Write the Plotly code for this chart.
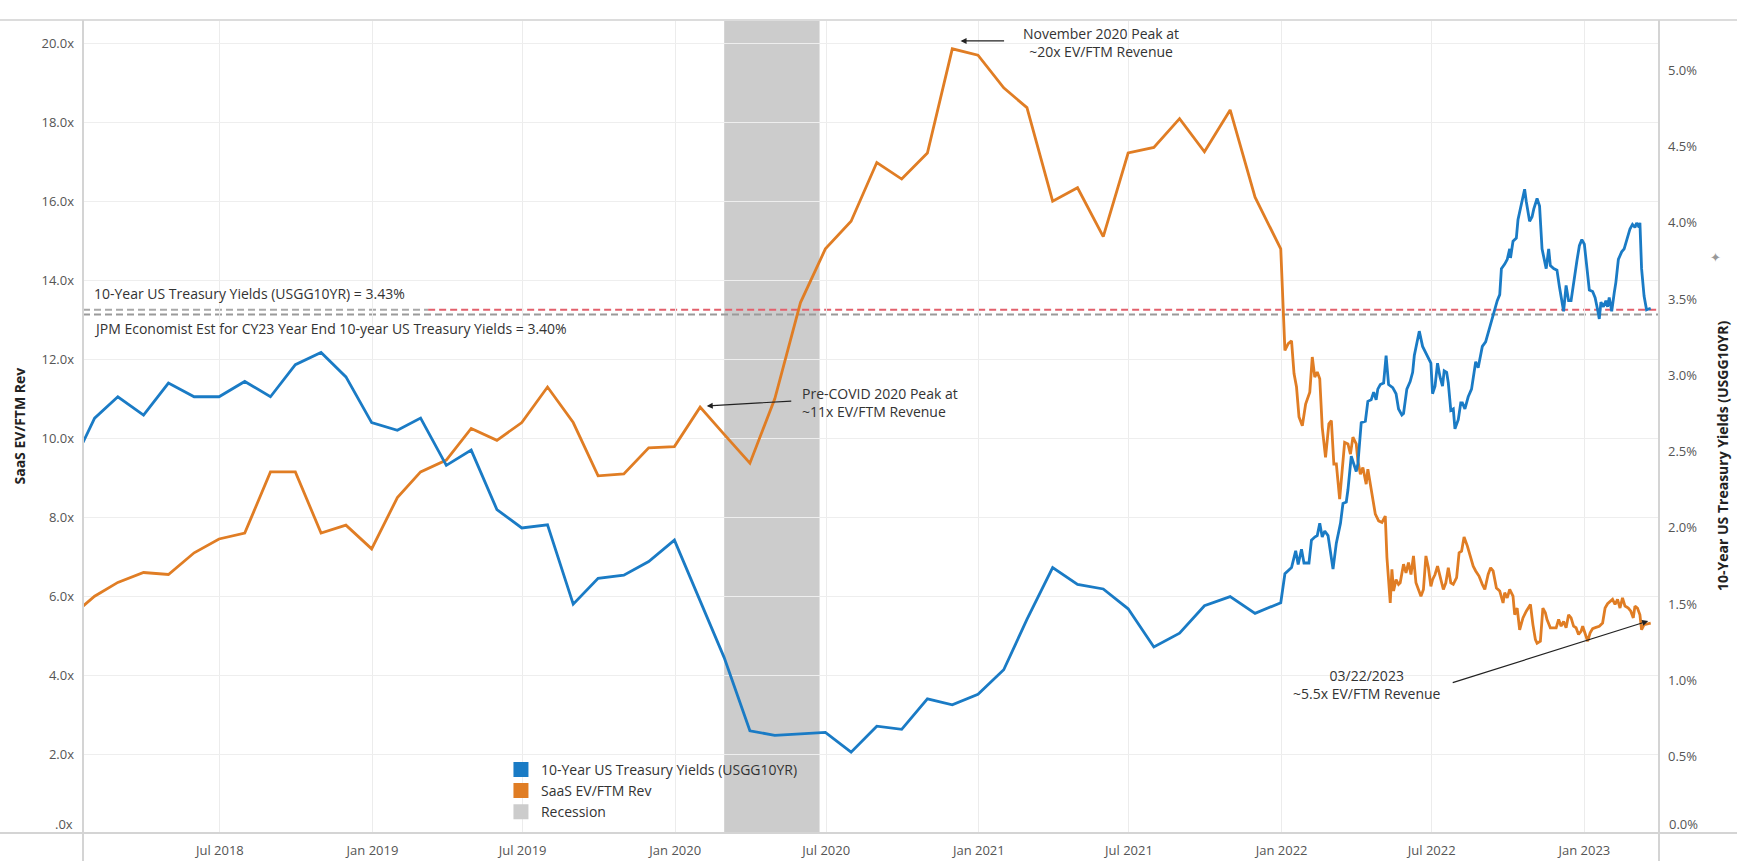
import plotly.graph_objects as go
import pandas as pd

# ---------------- data ----------------
start_date = "2018-01-17"
monthly_dates = [d.strftime("%Y-%m-%d") for d in
                 pd.date_range("2018-01-31", periods=48, freq=pd.offsets.MonthEnd())]

yield_start = 2.56
saas_start = 5.75

# 10-Year US Treasury Yields (%), month-end Jan 2018 .. Dec 2021
yield_monthly = [2.72, 2.86, 2.74, 2.95, 2.86, 2.86, 2.96, 2.86, 3.07, 3.15, 2.99, 2.69,
                 2.64, 2.72, 2.41, 2.51, 2.12, 2.00, 2.02, 1.50, 1.67, 1.69, 1.78, 1.92,
                 1.52, 1.15, 0.67, 0.64, 0.65, 0.66, 0.53, 0.70, 0.68, 0.88, 0.84, 0.91,
                 1.07, 1.40, 1.74, 1.63, 1.60, 1.47, 1.22, 1.31, 1.49, 1.55, 1.44, 1.51]

# SaaS EV/FTM Rev (x), month-end Jan 2018 .. Dec 2021
saas_monthly = [6.00, 6.35, 6.60, 6.55, 7.10, 7.45, 7.60, 9.15, 9.15, 7.60, 7.80, 7.20,
                8.50, 9.15, 9.45, 10.25, 9.95, 10.40, 11.30, 10.40, 9.05, 9.10, 9.76, 9.79,
                10.79, 10.10, 9.37, 11.00, 13.44, 14.80, 15.50, 16.99, 16.57, 17.23, 19.87, 19.71,
                18.88, 18.38, 16.01, 16.35, 15.11, 17.23, 17.37, 18.10, 17.26, 18.32, 16.11, 14.80]

yield_dense_dates = [
    "2022-01-05", "2022-01-09", "2022-01-13", "2022-01-18", "2022-01-21", "2022-01-25", "2022-01-28",
    "2022-02-03", "2022-02-06", "2022-02-10", "2022-02-13", "2022-02-16", "2022-02-19", "2022-02-22",
    "2022-02-26", "2022-03-04", "2022-03-08", "2022-03-13", "2022-03-16", "2022-03-20", "2022-03-22",
    "2022-03-26", "2022-04-01", "2022-04-03", "2022-04-07", "2022-04-12", "2022-04-15", "2022-04-19",
    "2022-04-22", "2022-04-25", "2022-04-27", "2022-04-30", "2022-05-04", "2022-05-07", "2022-05-10",
    "2022-05-15", "2022-05-19", "2022-05-22", "2022-05-26", "2022-05-28", "2022-06-01", "2022-06-05",
    "2022-06-08", "2022-06-10", "2022-06-13", "2022-06-16", "2022-06-20", "2022-06-25", "2022-06-30",
    "2022-07-02", "2022-07-05", "2022-07-08", "2022-07-11", "2022-07-14", "2022-07-16", "2022-07-19",
    "2022-07-21", "2022-07-24", "2022-07-27", "2022-07-29", "2022-08-02", "2022-08-05", "2022-08-07",
    "2022-08-10", "2022-08-14", "2022-08-18", "2022-08-20", "2022-08-23", "2022-08-26", "2022-08-28",
    "2022-08-31", "2022-09-04", "2022-09-07", "2022-09-11", "2022-09-15", "2022-09-18", "2022-09-21",
    "2022-09-23", "2022-09-27", "2022-09-30", "2022-10-03", "2022-10-04", "2022-10-07", "2022-10-11",
    "2022-10-13", "2022-10-16", "2022-10-19", "2022-10-21", "2022-10-23", "2022-10-27", "2022-10-30",
    "2022-11-01", "2022-11-05", "2022-11-08", "2022-11-11", "2022-11-13", "2022-11-16", "2022-11-19",
    "2022-11-21", "2022-11-25", "2022-11-29", "2022-12-02", "2022-12-05", "2022-12-07", "2022-12-10",
    "2022-12-13", "2022-12-16", "2022-12-19", "2022-12-23", "2022-12-26", "2022-12-29", "2023-01-01",
    "2023-01-04", "2023-01-07", "2023-01-11", "2023-01-14", "2023-01-17", "2023-01-19", "2023-01-21",
    "2023-01-24", "2023-01-27", "2023-01-29", "2023-01-31", "2023-02-03", "2023-02-06", "2023-02-08",
    "2023-02-11", "2023-02-15", "2023-02-18", "2023-02-21", "2023-02-25", "2023-02-28", "2023-03-03",
    "2023-03-05", "2023-03-08", "2023-03-09", "2023-03-11", "2023-03-14", "2023-03-17", "2023-03-22"]
yield_dense = [
    1.70, 1.72, 1.74, 1.85, 1.76, 1.86, 1.77,
    1.77, 1.92, 1.94, 1.95, 2.03, 1.94, 1.98,
    1.95, 1.73, 1.90, 2.03, 2.16, 2.17, 2.25,
    2.47, 2.37, 2.42, 2.69, 2.70, 2.83, 2.84,
    2.89, 2.84, 2.91, 2.94, 2.95, 3.13, 2.94,
    2.92, 2.88, 2.78, 2.74, 2.75, 2.91, 2.96,
    3.02, 3.13, 3.21, 3.29, 3.19, 3.13, 3.08,
    2.88, 2.93, 3.08, 2.99, 2.93, 3.03, 3.02,
    2.95, 2.77, 2.78, 2.65, 2.71, 2.82, 2.82,
    2.78, 2.86, 2.91, 2.99, 3.09, 3.05, 3.10,
    3.19, 3.22, 3.28, 3.36, 3.43, 3.49, 3.53,
    3.70, 3.73, 3.76, 3.83, 3.77, 3.88, 3.90,
    4.02, 4.10, 4.19, 4.22, 4.14, 4.01, 4.04,
    4.09, 4.16, 4.11, 3.83, 3.78, 3.70, 3.83,
    3.72, 3.70, 3.69, 3.58, 3.48, 3.42, 3.59,
    3.49, 3.49, 3.61, 3.75, 3.85, 3.89, 3.86,
    3.71, 3.56, 3.55, 3.51, 3.43, 3.37, 3.48,
    3.45, 3.49, 3.45, 3.51, 3.42, 3.54, 3.61,
    3.76, 3.81, 3.83, 3.89, 3.96, 3.99, 3.97,
    4.00, 3.97, 4.00, 3.70, 3.52, 3.43, 3.44]

saas_dense_dates = [
    "2022-01-05", "2022-01-09", "2022-01-13", "2022-01-16", "2022-01-19", "2022-01-22", "2022-01-26",
    "2022-01-30", "2022-02-04", "2022-02-07", "2022-02-10", "2022-02-13", "2022-02-16", "2022-02-19",
    "2022-02-23", "2022-02-27", "2022-03-02", "2022-03-05", "2022-03-08", "2022-03-12", "2022-03-15",
    "2022-03-18", "2022-03-22", "2022-03-25", "2022-03-28", "2022-04-01", "2022-04-03", "2022-04-06",
    "2022-04-09", "2022-04-13", "2022-04-15", "2022-04-19", "2022-04-24", "2022-04-28", "2022-05-02",
    "2022-05-06", "2022-05-08", "2022-05-12", "2022-05-14", "2022-05-16", "2022-05-19", "2022-05-22",
    "2022-05-24", "2022-05-28", "2022-05-31", "2022-06-03", "2022-06-06", "2022-06-09", "2022-06-12",
    "2022-06-15", "2022-06-18", "2022-06-21", "2022-06-24", "2022-06-27", "2022-06-30", "2022-07-02",
    "2022-07-05", "2022-07-08", "2022-07-11", "2022-07-15", "2022-07-18", "2022-07-21", "2022-07-24",
    "2022-07-27", "2022-07-31", "2022-08-03", "2022-08-06", "2022-08-09", "2022-08-13", "2022-08-16",
    "2022-08-20", "2022-08-23", "2022-08-27", "2022-08-31", "2022-09-03", "2022-09-07", "2022-09-10",
    "2022-09-13", "2022-09-17", "2022-09-21", "2022-09-25", "2022-09-27", "2022-09-30", "2022-10-03",
    "2022-10-07", "2022-10-09", "2022-10-12", "2022-10-15", "2022-10-19", "2022-10-23", "2022-10-28",
    "2022-10-31", "2022-11-03", "2022-11-05", "2022-11-09", "2022-11-12", "2022-11-15", "2022-11-17",
    "2022-11-21", "2022-11-24", "2022-11-28", "2022-12-01", "2022-12-04", "2022-12-07", "2022-12-10",
    "2022-12-13", "2022-12-16", "2022-12-19", "2022-12-22", "2022-12-25", "2022-12-28", "2022-12-30",
    "2023-01-02", "2023-01-05", "2023-01-08", "2023-01-11", "2023-01-15", "2023-01-19", "2023-01-23",
    "2023-01-26", "2023-01-29", "2023-02-01", "2023-02-04", "2023-02-07", "2023-02-10", "2023-02-13",
    "2023-02-16", "2023-02-19", "2023-02-23", "2023-02-26", "2023-03-01", "2023-03-03", "2023-03-06",
    "2023-03-09", "2023-03-11", "2023-03-14", "2023-03-17", "2023-03-22"]
saas_dense = [
    12.23, 12.40, 12.47, 11.64, 11.30, 10.54, 10.32,
    10.87, 11.17, 12.06, 11.55, 11.68, 11.51, 10.28,
    9.52, 10.37, 10.45, 9.35, 9.35, 8.46, 9.09,
    9.90, 9.86, 9.60, 10.03, 9.86, 9.43, 9.09,
    9.26, 8.84, 9.22, 8.67, 8.08, 7.91, 7.87,
    8.03, 6.98, 5.83, 6.68, 6.13, 6.42, 6.30,
    6.34, 6.81, 6.59, 6.85, 6.55, 7.02, 6.34,
    6.17, 6.00, 6.17, 7.02, 6.72, 6.25, 6.42,
    6.55, 6.76, 6.51, 6.17, 6.34, 6.72, 6.34,
    6.30, 6.47, 7.10, 7.14, 7.50, 7.27, 7.04,
    6.76, 6.64, 6.51, 6.30, 6.17, 6.55, 6.72,
    6.64, 6.21, 6.13, 5.83, 6.09, 5.96, 6.17,
    6.00, 5.53, 5.70, 5.15, 5.45, 5.62, 5.79,
    5.28, 4.90, 4.81, 4.86, 5.70, 5.58, 5.41,
    5.20, 5.20, 5.20, 5.41, 5.24, 5.36, 5.20,
    5.53, 5.45, 5.24, 5.20, 5.03, 5.11, 5.24,
    5.03, 4.86, 5.07, 5.18, 5.21, 5.24, 5.32,
    5.70, 5.81, 5.86, 5.92, 5.79, 5.92, 5.70,
    5.96, 5.75, 5.70, 5.62, 5.45, 5.75, 5.70,
    5.53, 5.15, 5.28, 5.30, 5.32]

recession_start = "2020-02-29"
recession_end = "2020-06-23"
ust_current = 3.43
jpm_estimate = 3.40

left_tickvals = [0, 2, 4, 6, 8, 10, 12, 14, 16, 18, 20]
left_ticktext = [".0x", "2.0x", "4.0x", "6.0x", "8.0x", "10.0x", "12.0x", "14.0x", "16.0x", "18.0x", "20.0x"]
right_tickvals = [0, 0.5, 1.0, 1.5, 2.0, 2.5, 3.0, 3.5, 4.0, 4.5, 5.0]
right_ticktext = ["0.0%", "0.5%", "1.0%", "1.5%", "2.0%", "2.5%", "3.0%", "3.5%", "4.0%", "4.5%", "5.0%"]

# ---------------- style ----------------
BLUE = "#1a7bc5"
ORANGE = "#e07d24"
GRAY_BAND = "#cccccc"
FONT = "Open Sans"
TXT = "#333333"
TICK = "#555555"

yield_x = [start_date] + monthly_dates + yield_dense_dates
yield_y = [yield_start] + yield_monthly + yield_dense
saas_x = [start_date] + monthly_dates + saas_dense_dates
saas_y = [saas_start] + saas_monthly + saas_dense

fig = go.Figure()
fig.add_trace(go.Scatter(x=saas_x, y=saas_y, mode="lines", line=dict(color=ORANGE, width=2.8),
                         yaxis="y", showlegend=False, name="SaaS EV/FTM Rev"))
fig.add_trace(go.Scatter(x=yield_x, y=yield_y, mode="lines", line=dict(color=BLUE, width=2.8),
                         yaxis="y2", showlegend=False, name="10-Year US Treasury Yields (USGG10YR)"))

# legend entries (square swatches)
for nm, col in [("10-Year US Treasury Yields (USGG10YR)", BLUE),
                ("SaaS EV/FTM Rev", ORANGE),
                ("Recession", GRAY_BAND)]:
    fig.add_trace(go.Scatter(x=[None], y=[None], mode="markers", name=nm,
                             marker=dict(symbol="square", size=15, color=col), showlegend=True))

shapes = [
    # recession band
    dict(type="rect", xref="x", yref="paper", x0=recession_start, x1=recession_end, y0=0, y1=1,
         fillcolor=GRAY_BAND, line=dict(width=0), layer="below"),
    # reference lines
    dict(type="line", xref="paper", yref="y2", x0=0, x1=0.219, y0=ust_current, y1=ust_current,
         line=dict(color="#a8a8a8", width=2, dash="7px,4px"), layer="between"),
    dict(type="line", xref="paper", yref="y2", x0=0.219, x1=1, y0=ust_current, y1=ust_current,
         line=dict(color="#e2606c", width=2, dash="7px,4px"), layer="between"),
    dict(type="line", xref="paper", yref="y2", x0=0, x1=1, y0=jpm_estimate, y1=jpm_estimate,
         line=dict(color="#9a9a9a", width=2, dash="7px,4px"), layer="between"),
    # frame lines (Tableau style)
    dict(type="line", xref="paper", yref="paper", x0=-0.06, x1=1.06, y0=1, y1=1,
         line=dict(color="#dcdcdc", width=2), layer="above"),
    dict(type="line", xref="paper", yref="paper", x0=-0.06, x1=1.06, y0=0, y1=0,
         line=dict(color="#d4d4d4", width=2), layer="above"),
    dict(type="line", xref="paper", yref="paper", x0=0, x1=0, y0=-0.04, y1=1,
         line=dict(color="#d4d4d4", width=2), layer="above"),
    dict(type="line", xref="paper", yref="paper", x0=1, x1=1, y0=-0.04, y1=1,
         line=dict(color="#d4d4d4", width=2), layer="above"),
]

ann_font = dict(family=FONT, size=14, color=TXT)
tick_font = dict(family=FONT, size=13, color=TICK)
annotations = [
    dict(text="10-Year US Treasury Yields (USGG10YR) = 3.43%", xref="paper", yref="paper",
         x=0.0057, y=0.664, xanchor="left", yanchor="middle", showarrow=False, font=ann_font),
    dict(text="JPM Economist Est for CY23 Year End 10-year US Treasury Yields = 3.40%",
         xref="paper", yref="paper", x=0.0057, y=0.620, xanchor="left", yanchor="middle",
         showarrow=False, font=ann_font),
    # November 2020 peak
    dict(text="November 2020 Peak at<br>~20x EV/FTM Revenue", xref="paper", yref="paper",
         x=0.6459, y=0.9729, xanchor="center", yanchor="middle", showarrow=False, font=ann_font),
    dict(text="", xref="x", yref="y", x="2020-12-10", y=20.07, ax=45, ay=0,
         showarrow=True, arrowhead=2, arrowsize=1, arrowwidth=1.2, arrowcolor="#222",
         standoff=0, startstandoff=0),
    # Pre-COVID peak
    dict(text="Pre-COVID 2020 Peak at<br>~11x EV/FTM Revenue", xref="paper", yref="paper",
         x=0.455, y=0.5295, xanchor="left", yanchor="middle", showarrow=False, font=ann_font,
         align="left"),
    dict(text="", xref="x", yref="y", x="2020-02-08", y=10.82, ax=86, ay=-5,
         showarrow=True, arrowhead=2, arrowsize=1, arrowwidth=1.2, arrowcolor="#222",
         standoff=0, startstandoff=0),
    # latest
    dict(text="03/22/2023<br>~5.5x EV/FTM Revenue", xref="paper", yref="paper",
         x=0.8147, y=0.1824, xanchor="center", yanchor="middle", showarrow=False, font=ann_font),
    dict(text="", xref="x", yref="y", x="2023-03-19", y=5.37, ax=-197, ay=62,
         showarrow=True, arrowhead=2, arrowsize=1, arrowwidth=1.2, arrowcolor="#222",
         standoff=0, startstandoff=0),
    # zero-value tick labels, nudged above the axis line as in the original
    dict(text=left_ticktext[0], xref="paper", yref="y", x=0, y=0, xanchor="right",
         yanchor="middle", xshift=-8, yshift=9, showarrow=False, font=tick_font),
    dict(text=right_ticktext[0], xref="paper", yref="y2", x=1, y=0, xanchor="left",
         yanchor="middle", xshift=8, yshift=9, showarrow=False, font=tick_font),
    # axis titles
    dict(text="<b>SaaS EV/FTM Rev</b>", xref="paper", yref="paper", x=-0.0406, y=0.5,
         textangle=-90, showarrow=False, xanchor="center", yanchor="middle",
         font=dict(family=FONT, size=14, color="#222")),
    dict(text="<b>10-Year US Treasury Yields (USGG10YR)</b>", xref="paper", yref="paper",
         x=1.0406, y=0.465, textangle=-90, showarrow=False, xanchor="center", yanchor="middle",
         font=dict(family=FONT, size=14, color="#222")),
    dict(text="✦", xref="paper", yref="paper", x=1.0406, y=0.72, showarrow=False,
         font=dict(family="DejaVu Sans", size=13, color="#999")),
]

fig.update_layout(
    width=1737, height=861,
    margin=dict(l=83, r=78, t=20, b=28),
    plot_bgcolor="white", paper_bgcolor="white",
    font=dict(family=FONT, size=13, color=TXT),
    shapes=shapes, annotations=annotations,
    showlegend=True,
    legend=dict(x=0.2652, y=0.0974, xanchor="left", yanchor="top", bgcolor="rgba(0,0,0,0)",
                font=dict(family=FONT, size=14, color=TXT), itemwidth=30, tracegroupgap=0),
    xaxis=dict(range=["2018-01-17", "2023-04-01"], type="date", dtick="M6", tick0="2018-01-01",
               tickformat="%b %Y", showgrid=True, gridcolor="#ececec", gridwidth=1,
               showline=False, zeroline=False, ticks="", ticklabelstandoff=8,
               tickfont=tick_font, automargin=False),
    yaxis=dict(range=[0, 20.6], tickvals=left_tickvals[1:], ticktext=left_ticktext[1:],
               showgrid=True, gridcolor="#eeeeee", gridwidth=1, zeroline=False, showline=False,
               ticks="", ticklabelstandoff=8, tickfont=tick_font, automargin=False),
    yaxis2=dict(range=[0, 5.33], tickvals=right_tickvals[1:], ticktext=right_ticktext[1:],
                overlaying="y", side="right", showgrid=False, zeroline=False, showline=False,
                ticks="", ticklabelstandoff=8, tickfont=tick_font, automargin=False),
)

fig.write_html("out.html", config={"displayModeBar": False},
               post_script="document.body.style.margin='0';")
